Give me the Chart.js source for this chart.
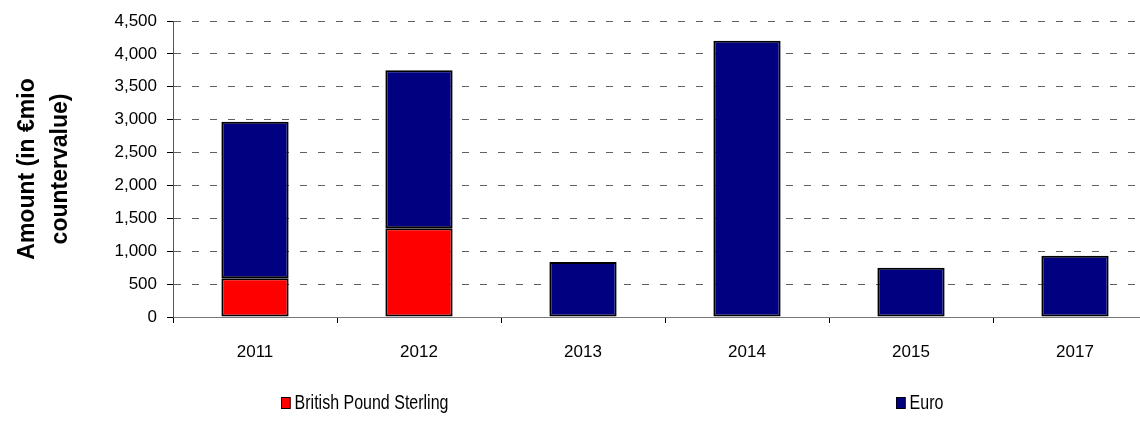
<!DOCTYPE html>
<html lang="en">
<head>
    <meta charset="UTF-8">
    <title>Amount by year</title>
    <script src="https://cdn.jsdelivr.net/npm/chart.js"></script>
    <style>
        body { margin: 0; background: #fff; overflow: hidden; font-family: 'Liberation Sans', Arial, sans-serif; }
        #wrap { position: relative; width: 1140px; height: 424px; overflow: hidden; }
        #chart { position: absolute; left: 0; top: 0; }
        .legend-item { position: absolute; top: 391px; font-size: 20px; color: #000; display: flex; align-items: center; white-space: nowrap; transform: scaleX(0.8); transform-origin: left center; }
        .legend-item span.box { width: 10px; height: 10px; border: 1px solid #000; margin-right: 5px; display: inline-block; }
    </style>
</head>
<body>
    <div id="wrap">
        <canvas id="chart" width="1160" height="424"></canvas>
        <div class="legend-item" style="left:281px"><span class="box" style="background:#ff0000"></span>British Pound Sterling</div>
        <div class="legend-item" style="left:896px"><span class="box" style="background:#000080"></span>Euro</div>
    </div>
    <script>
        // values (in EUR mio countervalue)
        const years = ['2011', '2012', '2013', '2014', '2015', '2017'];
        const gbpValues = [590, 1350, null, null, null, null];
        const eurValues = [2380, 2400, 835, 4200, 750, 930];
        const yTicks = [0, 500, 1000, 1500, 2000, 2500, 3000, 3500, 4000, 4500];

        const tickFont = { family: "'Liberation Sans', Arial, sans-serif", size: 17 };

        new Chart(document.getElementById('chart').getContext('2d'), {
            type: 'bar',
            data: {
                labels: years,
                datasets: [
                    { label: 'British Pound Sterling', data: gbpValues, backgroundColor: '#ff0000', borderColor: '#000', borderWidth: 2, borderSkipped: false },
                    { label: 'Euro', data: eurValues, backgroundColor: '#000080', borderColor: '#000', borderWidth: 2, borderSkipped: false }
                ]
            },
            options: {
                responsive: false,
                animation: false,
                layout: { padding: { top: 21, left: 0, right: 3, bottom: 0 } },
                plugins: { legend: { display: false }, tooltip: { enabled: false } },
                datasets: { bar: { categoryPercentage: 1, barPercentage: 0.41 } },
                scales: {
                    x: {
                        stacked: true,
                        grid: { drawOnChartArea: false, tickLength: 6, tickColor: '#000' },
                        border: { color: '#777', width: 1 },
                        ticks: { color: '#000', font: tickFont, padding: 19 },
                        afterFit(scale) { scale.height = 107; }
                    },
                    y: {
                        stacked: true,
                        min: 0,
                        max: yTicks[yTicks.length - 1],
                        afterBuildTicks(scale) { scale.ticks = yTicks.map(v => ({ value: v })); },
                        grid: { color: '#606060', tickLength: 6, tickColor: '#000' },
                        border: { color: '#555', width: 1, dash: [7, 11] },
                        ticks: { color: '#000', font: tickFont, padding: 10, callback: v => v.toLocaleString('en-US') },
                        title: {
                            display: true,
                            text: ['Amount (in €mio', 'countervalue)'],
                            color: '#000',
                            font: { family: "'Liberation Sans', Arial, sans-serif", size: 23, weight: 'bold', lineHeight: 1.4 },
                            padding: { top: 12, bottom: 0 }
                        },
                        afterFit(scale) { scale.width = 173; }
                    }
                }
            }
        });
    </script>
</body>
</html>
